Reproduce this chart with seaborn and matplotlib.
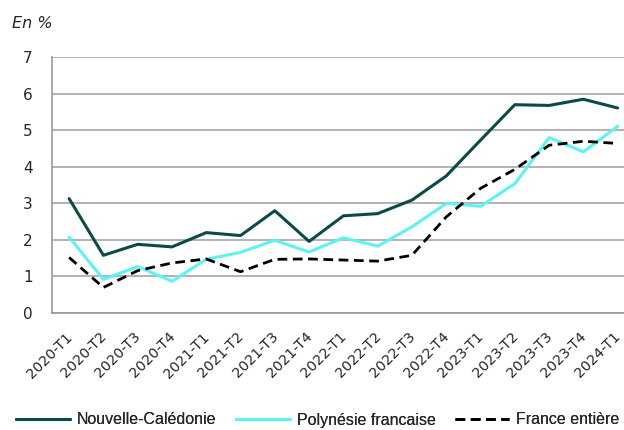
import pandas as pd
import matplotlib
matplotlib.use("Agg")
import matplotlib.pyplot as plt
import matplotlib.transforms as mtransforms
import seaborn as sns

# Trimestres et valeurs (en %)
trimestres = ['2020-T1', '2020-T2', '2020-T3', '2020-T4',
              '2021-T1', '2021-T2', '2021-T3', '2021-T4',
              '2022-T1', '2022-T2', '2022-T3', '2022-T4',
              '2023-T1', '2023-T2', '2023-T3', '2023-T4', '2024-T1']
nouvelle_caledonie = [3.13, 1.58, 1.88, 1.81, 2.20, 2.12, 2.80, 1.96,
                      2.66, 2.72, 3.09, 3.75, 4.73, 5.70, 5.68, 5.85, 5.61]
polynesie = [2.08, 0.92, 1.27, 0.87, 1.47, 1.66, 1.99, 1.67,
             2.06, 1.83, 2.36, 3.00, 2.92, 3.54, 4.80, 4.41, 5.11]
france = [1.52, 0.70, 1.16, 1.37, 1.48, 1.13, 1.47, 1.48,
          1.45, 1.42, 1.58, 2.63, 3.41, 3.93, 4.59, 4.70, 4.64]

df = pd.DataFrame({'pos': range(len(trimestres)),
                   'Nouvelle-Calédonie': nouvelle_caledonie,
                   'Polynésie francaise': polynesie,
                   'France entière': france})

sns.set_style('white')
plt.rcParams['font.family'] = ['DejaVu Sans']

fig = plt.figure(figsize=(6.24, 4.30), dpi=100)
ax = fig.add_axes([0.0833, 0.272, 0.934, 0.595])

sns.lineplot(data=df, x='pos', y='Nouvelle-Calédonie', color='#0b4a47',
             linewidth=2.2, label='Nouvelle-Calédonie', ax=ax)
sns.lineplot(data=df, x='pos', y='Polynésie francaise', color='#5ef2f5',
             linewidth=2.2, label='Polynésie francaise', ax=ax)
sns.lineplot(data=df, x='pos', y='France entière', color='black',
             linewidth=2.0, linestyle=(0, (3.5, 2)), label='France entière', ax=ax)

ax.set_xlim(-0.5, len(trimestres) - 0.5)
ax.set_ylim(0, 7)
ax.set_yticks(range(0, 8))
ax.set_xticks([i - 0.5 for i in range(len(trimestres) + 1)], minor=True)
ax.tick_params(axis='x', which='major', length=0, pad=12)
ax.tick_params(axis='x', which='minor', length=5, color='#999999', width=1)
ax.tick_params(axis='y', length=5, color='#999999', width=1, labelsize=11, pad=9)
ax.set_xticks(range(len(trimestres)))
ax.set_xticklabels(trimestres, rotation=45, ha='right', rotation_mode='anchor',
                   fontsize=10.3)
# petit décalage vers la gauche pour que le dernier libellé reste visible
shift = mtransforms.ScaledTranslation(-4 / 100, 0, fig.dpi_scale_trans)
for lab in ax.get_xticklabels():
    lab.set_transform(lab.get_transform() + shift)
ax.set_xlabel('')
ax.set_ylabel('')
ax.grid(axis='y', color='#a6a6a6', linewidth=1.2)
ax.set_axisbelow(True)
for s in ['top', 'right']:
    ax.spines[s].set_visible(False)
for s in ['left', 'bottom']:
    ax.spines[s].set_color('#999999')
    ax.spines[s].set_linewidth(1.2)

fig.text(0.019, 0.9465, 'En %', fontsize=11.5, style='italic', va='center')

ax.get_legend().remove()
handles, labels = ax.get_legend_handles_labels()
x_starts = [16, 236, 455]
for h, l, x0 in zip(handles, labels, x_starts):
    leg = fig.legend([h], [l], frameon=False, loc='center left',
                     bbox_to_anchor=(x0 / 624, 10 / 430), borderaxespad=0,
                     borderpad=0, prop={'family': 'Liberation Sans', 'size': 11.5},
                     handlelength=3.4, handletextpad=0.4)
    fig.add_artist(leg)

fig.savefig('out.png', dpi=100)
